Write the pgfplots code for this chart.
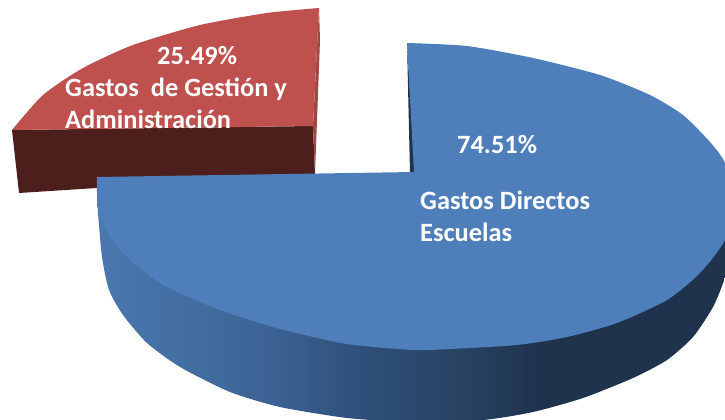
\documentclass[border=0pt]{standalone}
\usepackage{fontspec}
\setmainfont{Carlito}
\usepackage{pgfplots}
\pgfplotsset{compat=1.18}
\definecolor{bluetop}{HTML}{4F7FBA}
\definecolor{bluedark}{HTML}{1F344D}
\definecolor{redtop}{HTML}{BE504D}
\definecolor{redside}{HTML}{9E4744}
\definecolor{reddark}{HTML}{4C1F1D}
\pgfdeclarehorizontalshading{wallshade}{100bp}{
 rgb(0bp)=(0.29,0.47,0.68);
 rgb(25bp)=(0.29,0.47,0.68);
 rgb(34bp)=(0.25,0.42,0.62);
 rgb(39.4bp)=(0.23,0.38,0.57);
 rgb(44.7bp)=(0.19,0.32,0.49);
 rgb(52.5bp)=(0.16,0.27,0.40);
 rgb(59.8bp)=(0.12,0.20,0.30);
 rgb(100bp)=(0.12,0.20,0.30)}
\begin{document}
\begin{tikzpicture}
\useasboundingbox (0,0) rectangle (725pt,420pt);
\begin{axis}[
  at={(0,0)}, anchor=south west,
  scale only axis, width=725pt, height=420pt,
  xmin=0, xmax=725, ymin=0, ymax=420, y dir=reverse,
  hide axis, clip=true]
% red slice
\addplot[fill=reddark, draw=none] coordinates {(12,130) (313,126) (315,174) (19,193)} -- cycle;
\addplot[fill=redside, draw=none] coordinates {(319,8) (320,40) (315,174) (313,126)} -- cycle;
\addplot[fill=redtop, draw=none, smooth, tension=0.4] coordinates {(319,8) (267,13) (200,25) (133,45) (83,68) (43,95) (12,130)} -- (axis cs:313,126) -- cycle;
% blue slice
\addplot[shading=wallshade, draw=none, smooth, tension=0.4] coordinates {(97,180) (98,212) (102,257) (109,290) (123,315) (147,343) (180,367) (230,392) (280,407) (347,418) (410,422) (483,420) (533,412) (583,398) (633,378) (667,360) (693,337) (713,307) (725,277) (733,235) (733,205)} -- cycle;
\addplot[fill=bluedark, draw=none] coordinates {(407,43) (410,173) (415,173)} -- cycle;
\addplot[fill=bluetop, draw=none, smooth, tension=0.4] coordinates {(407,43) (467,46) (533,58) (600,75) (650,95) (683,115) (710,142) (725,163) (733,200) (725,240) (700,273) (667,300) (617,323) (567,337) (517,345) (450,349) (413,350) (347,344) (280,329) (217,309) (163,285) (130,260) (110,237) (98,210) (97,177)} -- (axis cs:414,172) -- cycle;
% labels
\begin{scope}[every node/.style={anchor=base west, text=white, font=\bfseries\fontsize{26.4}{26.4}\selectfont, inner sep=0pt}]
\node at (axis cs:157,65) {25.49\%};
\node at (axis cs:65,96) {Gastos\ \ de Gestión y};
\node at (axis cs:65,128) {Administración};
\node at (axis cs:457,153) {74.51\%};
\node at (axis cs:420,209) {Gastos Directos};
\node at (axis cs:420,241) {Escuelas};
\end{scope}
\end{axis}
\end{tikzpicture}
\end{document}
